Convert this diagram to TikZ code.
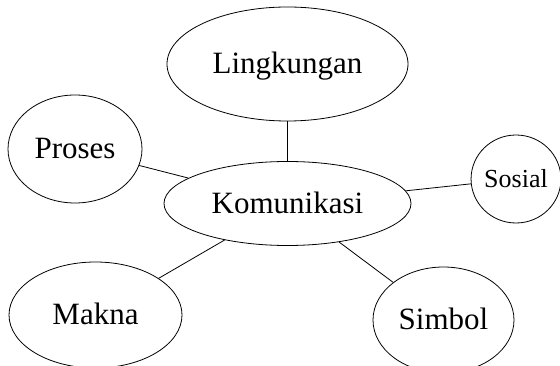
\documentclass[tikz,border=0pt]{standalone}
\usepackage{fontspec}
\setmainfont{Liberation Serif}
\usetikzlibrary{shapes.geometric}
\begin{document}
\begin{tikzpicture}[x=1pt,y=-1pt,
  bubble/.style={draw, ellipse, line width=0.8pt, inner sep=0pt, text height=25pt, text depth=5pt, font=\fontsize{31}{31}\selectfont},
  small/.style={text height=21pt, text depth=3pt, font=\fontsize{26}{26}\selectfont},
  link/.style={draw, line width=0.8pt}]
\useasboundingbox (0,0) rectangle (560,366);
\clip (0,0) rectangle (560,366);
\node[bubble, minimum width=247pt, minimum height=84pt] (kom) at (287.5,203.5) {Komunikasi};
\node[bubble, minimum width=241pt, minimum height=114pt] (lin) at (287.5,64) {Lingkungan};
\node[bubble, minimum width=134pt, minimum height=108pt] (pro) at (75,149) {Proses};
\node[bubble, small, minimum width=88pt, minimum height=88pt] (sos) at (516,179) {Sosial};
\node[bubble, minimum width=173pt, minimum height=106pt] (mak) at (95.5,315) {Makna};
\node[bubble, minimum width=141pt, minimum height=106pt] (sim) at (443.5,320) {Simbol};
\draw[link] (lin) -- (kom);
\draw[link] (pro) -- (kom);
\draw[link] (sos) -- (kom);
\draw[link] (mak) -- (kom);
\draw[link] (sim) -- (kom);
\end{tikzpicture}
\end{document}
